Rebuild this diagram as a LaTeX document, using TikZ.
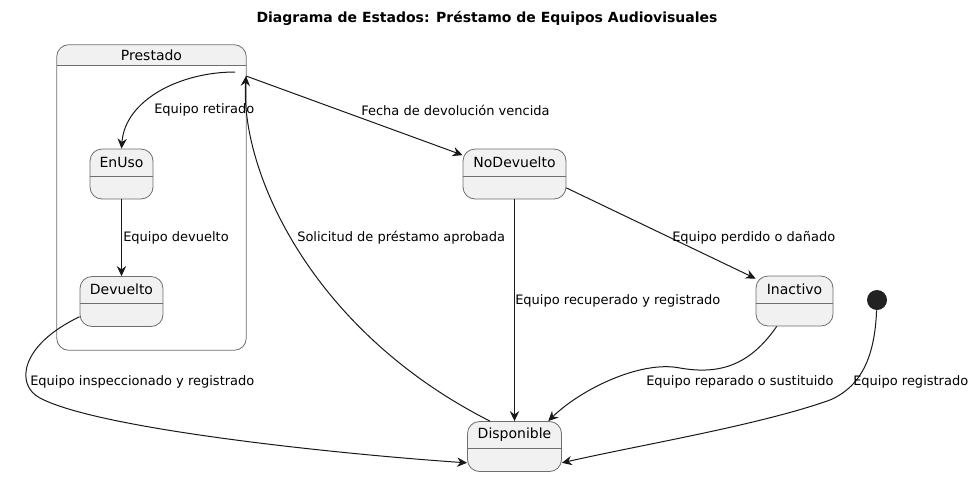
\documentclass[tikz,border=0pt]{standalone}
\usepackage{fontspec}
\setmainfont{DejaVu Sans}
\usetikzlibrary{arrows.meta,positioning}
\definecolor{fondo}{HTML}{F1F1F1}
\definecolor{borde}{HTML}{6E6E6E}
\definecolor{linea}{HTML}{181818}
\definecolor{punto}{HTML}{222222}

\begin{document}
\begin{tikzpicture}[x=0.75pt, y=-0.75pt,
    estado/.style={draw=borde, fill=fondo, rounded corners=9pt, minimum height=37.5pt, inner sep=0pt, line width=0.6pt},
    nombre/.style={font=\fontsize{10.5}{12}\selectfont, inner sep=0pt},
    etiqueta/.style={font=\fontsize{9.75}{12}\selectfont, anchor=west, inner sep=0pt},
    flecha/.style={draw=linea, line width=0.75pt, -{Stealth[length=7.5pt, width=7pt, inset=2.5pt]}}]

    \useasboundingbox (0,0) rectangle (975,476);

    % Titulo
    \node[font=\fontsize{10.5}{12}\selectfont\bfseries] (titulo) at (487,18) {Diagrama de Estados: Préstamo de Equipos Audiovisuales};

    % Estado compuesto Prestado
    \node[fill=white, rounded corners=9pt, minimum width=141.75pt, minimum height=228.75pt] (prestado) at (151.5,197.5) {};
    \begin{scope}
        \clip (57,45) rectangle (246,65);
        \fill[fondo, rounded corners=9pt] (prestado.south west) rectangle (prestado.north east);
    \end{scope}
    \draw[borde, line width=0.6pt, rounded corners=9pt] (prestado.south west) rectangle (prestado.north east);
    \draw[borde, line width=0.6pt] (prestado.west |- 0,65) -- (prestado.east |- 0,65);
    \node[nombre] (prestado-t) at (151.5,55) {Prestado};

    % Estados simples
    \foreach \n/\x/\y/\w/\t in {enuso/121.5/174/47.25/EnUso, devuelto/121.5/301.5/62.25/Devuelto, nodevuelto/514.5/174/77.25/NoDevuelto, inactivo/794.5/301/57.75/Inactivo, disponible/514.5/446.5/70.5/Disponible}
    {
        \node[estado, minimum width=\w pt] (\n) at (\x,\y) {};
        \node[nombre] (\n-t) at (\x,\y-12) {\t};
        \draw[borde, line width=0.6pt] (\n.west |- 0,\y+2) -- (\n.east |- 0,\y+2);
    }

    % Estado inicial
    \node[circle, fill=punto, minimum size=15pt, inner sep=0pt] (inicio) at (877,300) {};

    % Puntos del borde de Prestado
    \coordinate (pin) at (235,72);
    \coordinate (pborde) at (246,76);

    % Transiciones
    \draw[flecha] (pin) .. controls (180,72) and (125,100) .. (enuso.north);
    \draw[flecha] (pborde) -- (nodevuelto.160);
    \draw[flecha] (disponible.134) .. controls (310,330) and (240,170) .. (pborde);
    \draw[flecha] (enuso.south) -- (devuelto.north);
    \draw[flecha] (devuelto.200) .. controls (20,345) and (15,385) .. (40,398) .. controls (100,430) and (350,455) .. (disponible.199);
    \draw[flecha] (nodevuelto.south) -- (disponible.north);
    \draw[flecha] (nodevuelto.-15) -- (inactivo.150);
    \draw[flecha] (inactivo.235) .. controls (750,365) and (720,375) .. (680,368) .. controls (640,360) and (580,390) .. (disponible.37);
    \draw[flecha] (inicio) .. controls (875,350) and (865,385) .. (830,400) .. controls (760,425) and (640,445) .. (disponible.-19);

    % Etiquetas
    \node[etiqueta] (l-retirado) at (154,110) {Equipo retirado};
    \node[etiqueta] (l-vencida) at (361,110) {Fecha de devolución vencida};
    \node[etiqueta] (l-devuelto) at (123,238) {Equipo devuelto};
    \node[etiqueta] (l-solicitud) at (297,238) {Solicitud de préstamo aprobada};
    \node[etiqueta] (l-perdido) at (672,238) {Equipo perdido o dañado};
    \node[etiqueta] (l-recuperado) at (515,301) {Equipo recuperado y registrado};
    \node[etiqueta] (l-inspeccionado) at (30,382) {Equipo inspeccionado y registrado};
    \node[etiqueta] (l-reparado) at (646,382) {Equipo reparado o sustituido};
    \node[etiqueta] (l-registrado) at (853,382) {Equipo registrado};
\end{tikzpicture}
\end{document}
